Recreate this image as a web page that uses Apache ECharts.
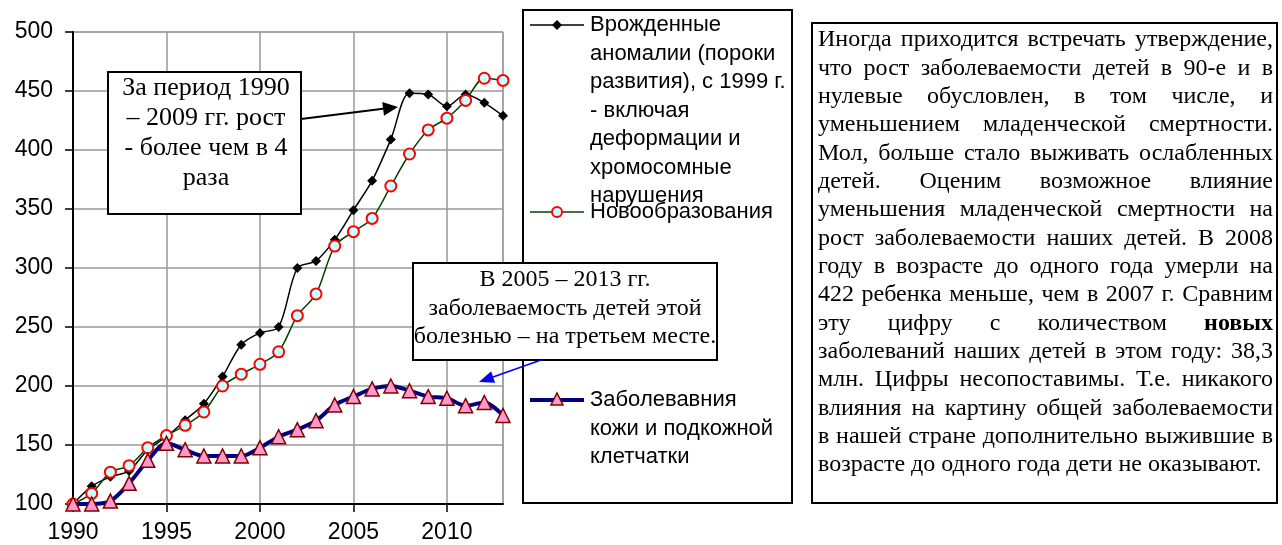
<!DOCTYPE html>
<html><head><meta charset="utf-8">
<script src="https://cdn.jsdelivr.net/npm/echarts@6/dist/echarts.min.js"></script>
<style>html,body{margin:0;padding:0;background:#fff}#c{width:1282px;height:545px}</style>
</head><body><div id="c"></div>
<script>
// ---- data ----
const years = [1990,1991,1992,1993,1994,1995,1996,1997,1998,1999,2000,2001,2002,2003,2004,2005,2006,2007,2008,2009,2010,2011,2012,2013];
const congenital = [100,115,123,128,146,157,171,185,208,235,245,250,300,306,324,349,374,409,448,447,437,447,440,429];
const neoplasms = [100,109,127,132.5,147.7,158,166.7,178,200,210,218.4,229,259.6,278,318.6,330.8,342,369.5,396.6,417,427,442,460.8,459];
const skin = [100,100,102.5,117.5,137,151.4,146,140.7,140.7,140.7,147.7,157,163,170.6,183.9,191,197.5,200,196,191,189.6,183.3,186,175];
const seriesNames = [
  'Врожденные аномалии (пороки развития), с 1999 г. - включая деформации и хромосомные нарушения',
  'Новообразования',
  'Заболевавния кожи и подкожной клетчатки'
];
const legendLines = [
  ['Врожденные','аномалии (пороки','развития), с 1999 г.','- включая','деформации и','хромосомные','нарушения'],
  ['Новообразования'],
  ['Заболевавния','кожи и подкожной','клетчатки']
];
const note1Lines = ['За период 1990','– 2009 гг. рост','- более чем в 4','раза'];
const note2Lines = ['В 2005 – 2013 гг.','заболеваемость детей этой','болезнью – на третьем месте.'];
const paragraphLines = [
  'Иногда приходится встречать утверждение,',
  'что рост заболеваемости детей в 90-е и в',
  'нулевые обусловлен, в том числе, и',
  'уменьшением младенческой смертности.',
  'Мол, больше стало выживать ослабленных',
  'детей. Оценим возможное влияние',
  'уменьшения младенческой смертности на',
  'рост заболеваемости наших детей. В 2008',
  'году в возрасте до одного года умерли на',
  '422 ребенка меньше, чем в 2007 г. Сравним',
  'эту цифру с количеством **новых**',
  'заболеваний наших детей в этом году: 38,3',
  'млн. Цифры несопоставимы. Т.е. никакого',
  'влияния на картину общей заболеваемости',
  'в нашей стране дополнительно выжившие в',
  'возрасте до одного года дети не оказывают.'
];

const pair = arr => years.map((y,i)=>[y,arr[i]]);
const SANS = '"Liberation Sans", Arial, sans-serif';
const SERIF = '"Liberation Serif", "Times New Roman", serif';

const graphics = [];
// legend box
graphics.push({type:'rect', shape:{x:523,y:10,width:269,height:493}, style:{fill:'#fff',stroke:'#000',lineWidth:2}, z:1});
const legY = [25, 212, 400];
const LH = 28.5;
function legendIcon(i, y){
  const x1=530, x2=584, xm=557;
  if(i===0){
    graphics.push({type:'line', shape:{x1,y1:y,x2,y2:y}, style:{stroke:'#000',lineWidth:1.5}, z:2});
    graphics.push({type:'polygon', shape:{points:[[xm,y-5],[xm+5,y],[xm,y+5],[xm-5,y]]}, style:{fill:'#000'}, z:3});
  } else if(i===1){
    graphics.push({type:'line', shape:{x1,y1:y,x2,y2:y}, style:{stroke:'#004400',lineWidth:1.5}, z:2});
    graphics.push({type:'circle', shape:{cx:xm,cy:y,r:5}, style:{fill:'#ccffff',stroke:'#ff0000',lineWidth:2}, z:3});
  } else {
    graphics.push({type:'line', shape:{x1,y1:y,x2,y2:y}, style:{stroke:'#000080',lineWidth:4}, z:2});
    graphics.push({type:'polygon', shape:{points:[[xm,y-7],[xm+6,y+5],[xm-6,y+5]]}, style:{fill:'#ff99cc',stroke:'#800000',lineWidth:1.5}, z:3});
  }
}
legendLines.forEach((lines,i)=>{
  legendIcon(i, legY[i]);
  lines.forEach((t,j)=>{
    graphics.push({type:'text', x:590, y:legY[i]+j*LH, z:3,
      style:{text:t, fontFamily:SANS, fontSize:22, fill:'#000', align:'left', verticalAlign:'middle'}});
  });
});

function arrow(x1,y1,x2,y2,color,w,len,half){
  const dx=x2-x1, dy=y2-y1, L=Math.hypot(dx,dy), ux=dx/L, uy=dy/L;
  const bx=x2-ux*len, by=y2-uy*len;
  graphics.push({type:'line', shape:{x1,y1,x2:bx,y2:by}, style:{stroke:color,lineWidth:w}, z:20});
  graphics.push({type:'polygon', shape:{points:[[x2,y2],[bx-uy*half,by+ux*half],[bx+uy*half,by-ux*half]]}, style:{fill:color}, z:20});
}

// note 1
graphics.push({type:'rect', shape:{x:108,y:72,width:193,height:142}, style:{fill:'#fff',stroke:'#000',lineWidth:2}, z:10});
note1Lines.forEach((t,j)=>graphics.push({type:'text', x:206, y:88+j*30, z:11,
  style:{text:t, fontFamily:SERIF, fontSize:26, fill:'#000', align:'center', verticalAlign:'middle'}}));
arrow(301,119,398,107,'#000',2,15,7);

// note 2
graphics.push({type:'rect', shape:{x:413,y:263,width:304,height:97}, style:{fill:'#fff',stroke:'#000',lineWidth:2}, z:10});
note2Lines.forEach((t,j)=>graphics.push({type:'text', x:565, y:280+j*28.5, z:11,
  style:{text:t, fontFamily:SERIF, fontSize:24, fill:'#000', align:'center', verticalAlign:'middle'}}));
arrow(541,360,479,382,'#0000ff',1.5,15,6);

// paragraph box
graphics.push({type:'rect', shape:{x:812,y:23,width:465,height:480}, style:{fill:'#fff',stroke:'#000',lineWidth:2}, z:1});
const PFS = 24, PX0 = 818, PX1 = 1273, PY0 = 40, PLH = 28.33;
const mctx = document.createElement('canvas').getContext('2d');
function mw(t,bold){ mctx.font = (bold?'bold ':'') + PFS + 'px "Liberation Serif"'; return mctx.measureText(t).width; }
paragraphLines.forEach((line,li)=>{
  const words = line.split(/\s+/).filter(Boolean).map(w=>{
    const b = /^\*\*.*\*\*$/.test(w); const t = b ? w.slice(2,-2) : w;
    return {t, b, w: mw(t,b)};
  });
  const total = words.reduce((s,w)=>s+w.w,0);
  const last = li === paragraphLines.length-1;
  const gap = (last || words.length<2) ? mw(' ',false) : (PX1-PX0-total)/(words.length-1);
  let x = PX0;
  words.forEach(w=>{
    graphics.push({type:'text', x, y:PY0+li*PLH, z:3,
      style:{text:w.t, fontFamily:SERIF, fontSize:PFS, fontWeight:w.b?'bold':'normal', fill:'#000', align:'left', verticalAlign:'middle'}});
    x += w.w + gap;
  });
});

const chart = echarts.init(document.getElementById('c'), null, {renderer:'canvas'});
chart.setOption({
  animation:false,
  backgroundColor:'#fff',
  grid:{left:73, top:32, width:430, height:472, show:true, borderColor:'#999', borderWidth:1, backgroundColor:'#fff'},
  xAxis:{type:'value', min:1990, max:2013, interval:5,
    axisLine:{lineStyle:{color:'#000',width:2}},
    axisTick:{show:true, length:8, lineStyle:{color:'#000',width:1.5}},
    axisLabel:{color:'#000', fontFamily:SANS, fontSize:23, margin:17, showMaxLabel:false, formatter:v=>String(v)},
    splitLine:{show:true, lineStyle:{color:'#999',width:1.5}}},
  yAxis:{type:'value', min:100, max:500, interval:50,
    axisLine:{show:true, lineStyle:{color:'#000',width:2}},
    axisTick:{show:true, length:8, lineStyle:{color:'#000',width:1.5}},
    axisLabel:{color:'#000', fontFamily:SANS, fontSize:23, margin:20},
    splitLine:{show:true, lineStyle:{color:'#999',width:1.5}}},
  series:[
    {name:seriesNames[0], type:'line', data:pair(congenital), smooth:0.3, symbol:'diamond', symbolSize:10,
      lineStyle:{color:'#000',width:1.5}, itemStyle:{color:'#000'}, z:3},
    {name:seriesNames[1], type:'line', data:pair(neoplasms), smooth:0.3, symbol:'circle', symbolSize:11,
      lineStyle:{color:'#004400',width:1.5}, itemStyle:{color:'#ccffff',borderColor:'#ff0000',borderWidth:2}, z:4},
    {name:seriesNames[2], type:'line', data:pair(skin), smooth:0.3, symbol:'triangle', symbolSize:14,
      lineStyle:{color:'#000080',width:4}, itemStyle:{color:'#ff99cc',borderColor:'#800000',borderWidth:1.5}, z:5}
  ],
  graphic:{elements:graphics}
});
</script>
</body></html>
